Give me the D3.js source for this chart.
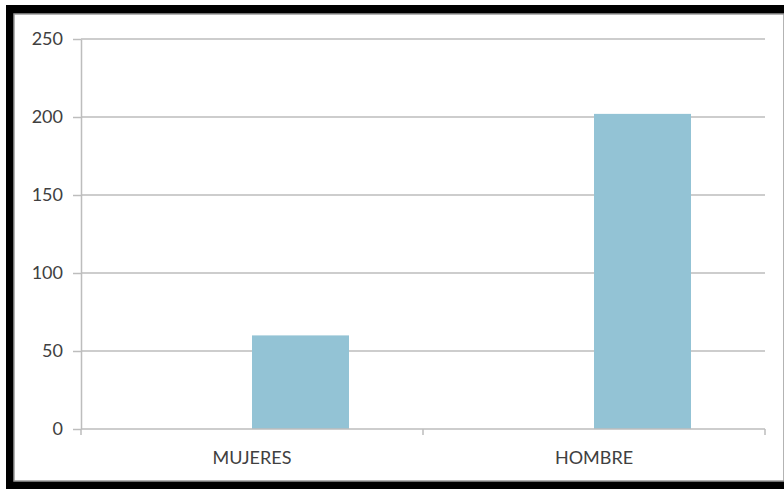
<!DOCTYPE html>
<html>
<head>
<meta charset="utf-8">
<script src="https://cdn.jsdelivr.net/npm/d3@7"></script>
<style>
  html, body { margin: 0; padding: 0; background: #fff; }
  svg { display: block; }
  .tick text { font-family: Lato, "Open Sans", sans-serif; fill: #404040; }
</style>
</head>
<body>
<svg class="vis" width="784" height="489"></svg>
<script>
// values
const categories = ['MUJERES', 'HOMBRE'];
const values = [60, 202];
const yTicks = [0, 50, 100, 150, 200, 250];

const W = 784, H = 489;
const plot = { left: 81, right: 765, top: 39, bottom: 429 };

const svg = d3.select('svg.vis');

// frame: black border left/top/bottom, cut off on the right
svg.append('rect').attr('x', 6).attr('y', 5).attr('width', W - 6).attr('height', H - 5).attr('fill', '#000');
svg.append('rect').attr('x', 14).attr('y', 14).attr('width', W - 14).attr('height', 467)
  .attr('fill', '#fff').attr('stroke', '#9a9a9a').attr('stroke-width', 1.5);

const x = d3.scaleBand()
  .domain(categories)
  .range([plot.left, plot.right]);

const y = d3.scaleLinear()
  .domain([0, 250])
  .range([plot.bottom, plot.top]);

// gridlines
svg.append('g')
  .selectAll('line')
  .data(yTicks.slice(1))
  .join('line')
  .attr('x1', plot.left).attr('x2', plot.right)
  .attr('y1', d => y(d)).attr('y2', d => y(d))
  .attr('stroke', '#bdbdbd').attr('stroke-width', 1.5);

// y axis
const yAxis = svg.append('g')
  .attr('transform', `translate(${plot.left},0)`)
  .call(d3.axisLeft(y).tickValues(yTicks).tickSize(8).tickPadding(10).tickSizeOuter(0));
yAxis.select('.domain').attr('stroke', '#bdbdbd').attr('stroke-width', 1.5);
yAxis.selectAll('.tick line').attr('stroke', '#bdbdbd').attr('stroke-width', 1.5);
yAxis.selectAll('.tick text').attr('font-size', 18);

// bars: start at the category centre (empty first series)
const bw = 97;
svg.append('g')
  .selectAll('rect')
  .data(values)
  .join('rect')
  .attr('x', (d, i) => x(categories[i]) + x.bandwidth() / 2)
  .attr('y', d => y(d))
  .attr('width', bw)
  .attr('height', d => y(0) - y(d))
  .attr('fill', '#93c3d5');

// x axis
const xAxis = svg.append('g')
  .attr('transform', `translate(0,${plot.bottom})`)
  .call(d3.axisBottom(x).tickSize(0).tickPadding(22));
xAxis.select('.domain').remove();
xAxis.selectAll('.tick text').attr('font-size', 18);

svg.append('line')
  .attr('x1', plot.left).attr('x2', plot.right)
  .attr('y1', y(0)).attr('y2', y(0))
  .attr('stroke', '#bdbdbd').attr('stroke-width', 1.5);

// category boundary ticks
svg.append('g')
  .selectAll('line')
  .data([plot.left, plot.left + x.bandwidth(), plot.right])
  .join('line')
  .attr('x1', d => d).attr('x2', d => d)
  .attr('y1', y(0)).attr('y2', y(0) + 6)
  .attr('stroke', '#bdbdbd').attr('stroke-width', 1.5);
</script>
</body>
</html>
